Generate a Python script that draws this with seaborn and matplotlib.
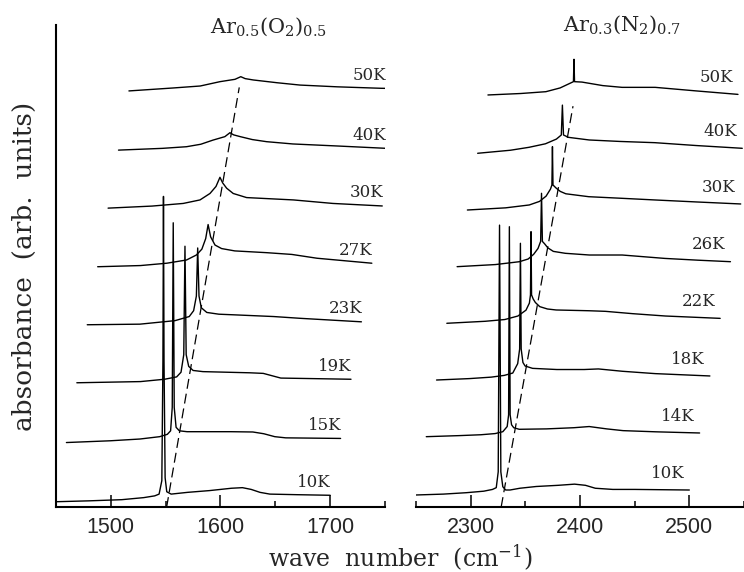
import numpy as np
import pandas as pd
import matplotlib.pyplot as plt
import seaborn as sns

# Ar(O2) spectra, one list of points per temperature (wave number, absorbance)
o2_temps = ["10K", "15K", "19K", "23K", "27K", "30K", "40K", "50K"]
o2_wn = [
    [1450, 1480, 1510, 1530, 1540, 1544, 1546.5, 1547.5, 1548, 1548.5, 1549.5, 1551, 1555, 1570, 1590, 1610, 1620, 1628, 1636, 1645, 1670, 1700],
    [1450, 1490, 1517, 1535, 1542, 1545, 1546.5, 1547.4, 1548.3, 1550, 1553, 1560, 1600, 1620, 1630, 1640, 1650, 1700],
    [1450, 1508, 1530, 1541, 1545, 1547.5, 1548.6, 1549.7, 1552, 1556, 1565, 1608, 1620, 1628, 1636, 1700],
    [1450, 1498, 1530, 1543, 1547, 1549.5, 1550.7, 1551.9, 1554, 1559, 1570, 1583, 1620, 1644, 1700],
    [1450, 1489, 1513, 1531, 1540, 1545, 1548.5, 1550.7, 1553, 1557, 1563, 1575, 1604, 1627, 1650, 1700],
    [1450, 1490, 1518.5, 1533.8, 1542.9, 1548.4, 1552, 1554.5, 1558.1, 1564.1, 1576.3, 1619, 1655, 1700],
    [1450, 1490, 1512, 1525, 1536, 1547, 1551.6, 1555, 1561, 1572, 1585, 1609, 1650, 1700],
    [1450, 1490, 1515, 1533, 1546.7, 1552, 1556, 1563.4, 1585, 1606, 1640, 1680, 1700],
]
o2_abs = [
    [0.09, 0.105, 0.125, 0.16, 0.19, 0.22, 0.45, 2.5, 5.3, 2.5, 0.5, 0.26, 0.22, 0.25, 0.28, 0.32, 0.33, 0.30, 0.25, 0.22, 0.21, 0.20],
    [0.10, 0.13, 0.16, 0.20, 0.24, 0.30, 0.7, 3.85, 0.7, 0.36, 0.30, 0.285, 0.285, 0.28, 0.25, 0.20, 0.18, 0.17],
    [0.12, 0.14, 0.18, 0.22, 0.30, 0.6, 2.45, 0.6, 0.40, 0.33, 0.31, 0.29, 0.28, 0.24, 0.20, 0.18],
    [0.11, 0.12, 0.18, 0.25, 0.35, 0.6, 1.42, 0.6, 0.40, 0.32, 0.29, 0.28, 0.25, 0.22, 0.16],
    [0.10, 0.12, 0.16, 0.215, 0.30, 0.40, 0.58, 0.82, 0.61, 0.47, 0.41, 0.37, 0.34, 0.31, 0.245, 0.16],
    [0.10, 0.135, 0.18, 0.24, 0.35, 0.47, 0.626, 0.53, 0.44, 0.35, 0.28, 0.24, 0.18, 0.137],
    [0.09, 0.12, 0.148, 0.19, 0.26, 0.32, 0.387, 0.35, 0.32, 0.27, 0.234, 0.195, 0.16, 0.115],
    [0.10, 0.15, 0.184, 0.258, 0.298, 0.343, 0.31, 0.287, 0.24, 0.20, 0.17, 0.145, 0.14],
]

# Ar(N2) spectra
n2_temps = ["10K", "14K", "18K", "22K", "26K", "30K", "40K", "50K"]
n2_wn = [
    [2250, 2275, 2296, 2312, 2320, 2323.4, 2325.2, 2326.4, 2327.6, 2329.4, 2332, 2336, 2345, 2360, 2380, 2395, 2405, 2414, 2430, 2450, 2500],
    [2250, 2280, 2300, 2313, 2320, 2324, 2325.3, 2326, 2326.7, 2328, 2330, 2335, 2360, 2385, 2399, 2415, 2430, 2460, 2500],
    [2250, 2280, 2300, 2312, 2319.7, 2324.2, 2326, 2326.7, 2327.4, 2329, 2331, 2337.8, 2360, 2385, 2398, 2420, 2450, 2500],
    [2250, 2285, 2303, 2315, 2322.4, 2325.5, 2326.5, 2327, 2327.5, 2329, 2331, 2335, 2342, 2350, 2380, 2395, 2420, 2450, 2500],
    [2250, 2285, 2307, 2315, 2320, 2324, 2326.4, 2327.2, 2328, 2330, 2333, 2338, 2349, 2371, 2401, 2440, 2470, 2500],
    [2250, 2285, 2306.6, 2316, 2322, 2326, 2327.3, 2327.8, 2328.3, 2331, 2335, 2340, 2361, 2391, 2422, 2460, 2500],
    [2250, 2280, 2297, 2312, 2322, 2326.5, 2327.5, 2328.5, 2333, 2352, 2380, 2412, 2450, 2492],
    [2250, 2280, 2303, 2316, 2324, 2328.2, 2328.7, 2329.2, 2336, 2355, 2372.7, 2403, 2440, 2478.7],
]
n2_abs = [
    [0.205, 0.22, 0.244, 0.27, 0.30, 0.33, 0.6, 4.81, 0.6, 0.346, 0.29, 0.29, 0.32, 0.35, 0.37, 0.39, 0.37, 0.32, 0.30, 0.30, 0.29],
    [0.227, 0.245, 0.26, 0.28, 0.312, 0.40, 0.6, 3.81, 0.6, 0.43, 0.38, 0.353, 0.36, 0.38, 0.40, 0.36, 0.33, 0.31, 0.29],
    [0.221, 0.245, 0.27, 0.30, 0.34, 0.50, 0.75, 2.554, 0.75, 0.52, 0.46, 0.42, 0.40, 0.40, 0.41, 0.37, 0.33, 0.29],
    [0.216, 0.25, 0.28, 0.34, 0.44, 0.56, 0.7, 1.779, 0.7, 0.63, 0.57, 0.50, 0.46, 0.443, 0.43, 0.42, 0.38, 0.34, 0.30],
    [0.209, 0.245, 0.294, 0.34, 0.42, 0.52, 0.64, 1.461, 0.64, 0.60, 0.53, 0.47, 0.437, 0.408, 0.408, 0.35, 0.32, 0.294],
    [0.203, 0.24, 0.289, 0.35, 0.44, 0.56, 0.63, 1.284, 0.63, 0.58, 0.52, 0.48, 0.43, 0.403, 0.374, 0.34, 0.306],
    [0.198, 0.25, 0.30, 0.36, 0.44, 0.51, 1.02, 0.51, 0.47, 0.425, 0.40, 0.379, 0.33, 0.283],
    [0.22, 0.245, 0.276, 0.34, 0.41, 0.447, 0.829, 0.447, 0.44, 0.38, 0.35, 0.35, 0.29, 0.23],
]

# dashed guide lines
o2_guide_wn = [1550.9, 1617.1]
o2_guide_y = [0.0, 7.16]
n2_guide_wn = [2327.9, 2393.6]
n2_guide_y = [0.0, 6.84]

# waterfall shift per trace (wave number, absorbance)
O2_SHIFT = (9.5, 1.0)
N2_SHIFT = (9.4, 0.973)


def stack(temps, wn, ab, shift):
    rows = []
    for i, (t, w, a) in enumerate(zip(temps, wn, ab)):
        for wi, ai in zip(w, a):
            rows.append({"trace": t, "x": wi + i * shift[0], "y": ai + i * shift[1]})
    return pd.DataFrame(rows)


sns.set_style("white")
plt.rcParams["font.family"] = "DejaVu Serif"
plt.rcParams["mathtext.fontset"] = "dejavuserif"

fig = plt.figure(figsize=(7.44, 5.72), dpi=100)
ax1 = fig.add_axes([56 / 744, 65 / 572, 329 / 744, 482 / 572])
ax2 = fig.add_axes([416 / 744, 65 / 572, 328 / 744, 482 / 572])

panels = [
    (ax1, o2_temps, o2_wn, o2_abs, O2_SHIFT, o2_guide_wn, o2_guide_y,
     (1450, 1750), [1500, 1600, 1700], [1450, 1550, 1650, 1750], (0.7, 9.4)),
    (ax2, n2_temps, n2_wn, n2_abs, N2_SHIFT, n2_guide_wn, n2_guide_y,
     (2250, 2548.2), [2300, 2400, 2500], [2250, 2350, 2450, 2550], (-3.6, 12.2)),
]

for ax, temps, wn, ab, shift, gx, gy, xlim, major, minor, lab_off in panels:
    df = stack(temps, wn, ab, shift)
    sns.lineplot(data=df, x="x", y="y", units="trace", estimator=None, sort=False,
                 color="black", lw=1.0, legend=False, ax=ax)
    ax.plot(gx, gy, color="black", lw=0.9, dashes=(8, 4))
    for i, t in enumerate(temps):
        ex = min(wn[i][-1] + i * shift[0], xlim[1])
        ey = ab[i][-1] + i * shift[1]
        ax.annotate(t, (ex, ey), xytext=lab_off, textcoords="offset points",
                    ha="right", va="center", fontsize=12)
    ax.set_xlim(*xlim)
    ax.set_ylim(0, 8.225)
    ax.set_xticks(major)
    ax.set_xticks(minor, minor=True)
    ax.set_yticks([])
    ax.set_xlabel("")
    ax.set_ylabel("")
    ax.tick_params(axis="x", which="both", bottom=True, top=False, direction="in",
                   color="black", width=1.1)
    ax.tick_params(axis="x", which="major", length=9, pad=7, labelsize=15.5,
                   labelfontfamily="Liberation Sans")
    ax.tick_params(axis="x", which="minor", length=4.5)
    for side in ["top", "right"]:
        ax.spines[side].set_visible(False)
    ax.spines["bottom"].set_linewidth(1.5)
    ax.spines["bottom"].set_color("black")
    ax.patch.set_alpha(0)

ax1.spines["left"].set_linewidth(1.5)
ax1.spines["left"].set_color("black")
ax2.spines["left"].set_visible(False)

fig.text(268 / 744, 1 - 27 / 572, r"Ar$_{0.5}$(O$_2$)$_{0.5}$", ha="center", va="center", fontsize=15)
fig.text(622 / 744, 1 - 25 / 572, r"Ar$_{0.3}$(N$_2$)$_{0.7}$", ha="center", va="center", fontsize=15)
fig.text(400 / 744, 1 - 558 / 572, r"wave  number  (cm$^{-1}$)", ha="center", va="center", fontsize=17)
fig.text(24 / 744, 1 - 266 / 572, "absorbance  (arb.  units)", ha="center", va="center",
         rotation=90, fontsize=19)

fig.savefig("out.png", dpi=100)
